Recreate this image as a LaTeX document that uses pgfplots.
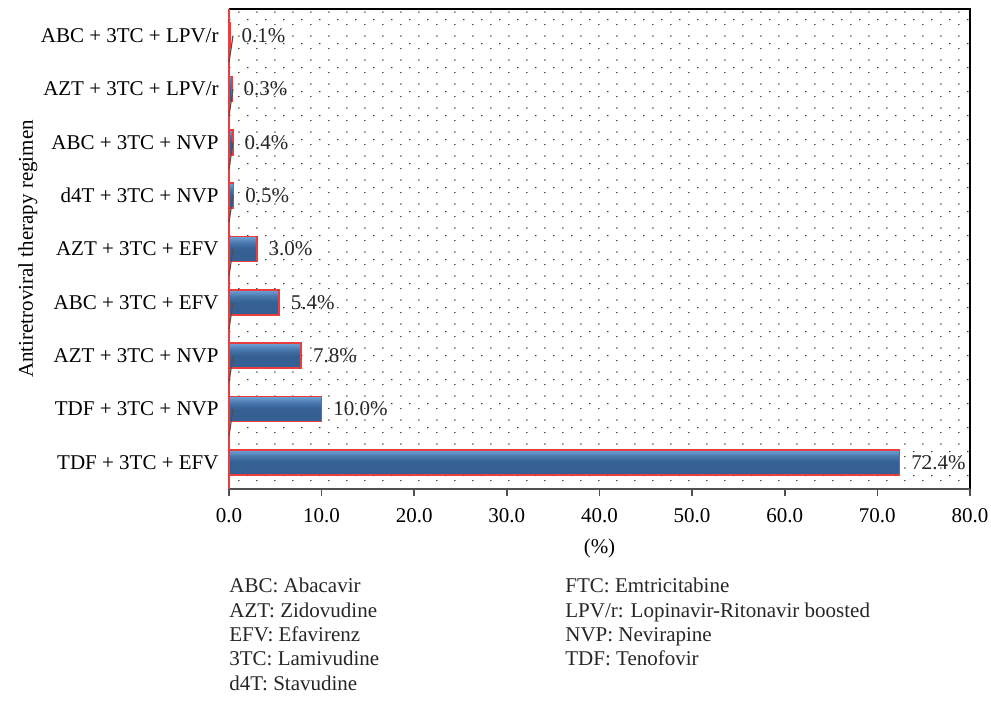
\documentclass[border=0pt]{standalone}
\usepackage{fontspec}
\setmainfont{Liberation Serif}
\usepackage{pgfplots}
\pgfplotsset{compat=1.18}
\usetikzlibrary{patterns}
\definecolor{barred}{RGB}{232,62,62}
\definecolor{barlight}{RGB}{112,162,216}
\definecolor{barmid}{RGB}{72,118,170}
\definecolor{bardark}{RGB}{52,96,148}
\definecolor{axgray}{RGB}{80,80,80}
\pgfdeclareverticalshading{barshade}{100bp}{color(0bp)=(bardark); color(25bp)=(bardark); color(50bp)=(bardark); color(62bp)=(barmid); color(75bp)=(barlight); color(100bp)=(barlight)}
\pgfdeclarepatternformonly{griddots}{\pgfpoint{0pt}{0pt}}{\pgfpoint{9.15pt}{12pt}}{\pgfpoint{9.15pt}{12pt}}{%
  \pgfpathcircle{\pgfpoint{1pt}{1pt}}{0.4pt}%
  \pgfpathcircle{\pgfpoint{1pt}{7pt}}{0.4pt}%
  \pgfpathcircle{\pgfpoint{5.6pt}{9.5pt}}{0.4pt}%
  \pgfusepath{fill}}
\pgfplotsset{onebar/.style={draw=barred, line width=0.8pt, shading=barshade, bar shift=0pt}}
\begin{document}
\fontsize{10.5}{12.6}\selectfont
\begin{tikzpicture}
\begin{axis}[
  name=ax,
  at={(0,0)}, anchor=south west,
  width=370.5pt, height=240pt, scale only axis,
  xbar, bar width=12.5pt,
  xmin=0, xmax=80, ymin=-0.5, ymax=8.5,
  xtick={0,10,...,80},
  xtick pos=lower, ytick pos=left,
  /pgf/number format/assume math mode=true,
  x tick label style={yshift=-2.5pt, /pgf/number format/.cd, fixed, fixed zerofill, precision=1},
  ytick={0,...,8},
  yticklabels={TDF + 3TC + EFV, TDF + 3TC + NVP, AZT + 3TC + NVP, ABC + 3TC + EFV, AZT + 3TC + EFV, d4T + 3TC + NVP, ABC + 3TC + NVP, AZT + 3TC + LPV/r, ABC + 3TC + LPV/r},
  major y tick style={draw=none},
  y tick label style={xshift=2pt},
  xlabel={(\%)},
  xlabel style={yshift=-1pt},
  ylabel={Antiretroviral therapy regimen},
  ylabel style={yshift=-5.5pt},
  axis line style={draw=none},
  tick style={color=axgray, line width=0.8pt},
  major tick length=3.5pt,
  tick align=outside,
  axis background/.style={pattern=griddots, pattern color=black!85},
  clip=false,
  point meta=x,
  nodes near coords={\pgfmathprintnumber[fixed,fixed zerofill,precision=1]{\pgfplotspointmeta}\%},
  nodes near coords align={horizontal},
  every node near coord/.append style={color=black!85, xshift=2pt, font=\fontsize{10.5}{12.6}\selectfont},
]
\addplot[onebar] coordinates {(72.4,0)};
\addplot[onebar] coordinates {(10.0,1)};
\addplot[onebar] coordinates {(7.8,2)};
\addplot[onebar] coordinates {(5.4,3)};
\addplot[onebar] coordinates {(3.0,4)};
\addplot[onebar] coordinates {(0.5,5)};
\addplot[onebar] coordinates {(0.4,6)};
\addplot[onebar] coordinates {(0.3,7)};
\addplot[onebar] coordinates {(0.1,8)};
\draw[black, line width=0.8pt] (rel axis cs:0,1) -- (rel axis cs:1,1) -- (rel axis cs:1,0);
\draw[axgray, line width=0.8pt] (rel axis cs:0,0) -- (rel axis cs:1,0);
\draw[barred, line width=0.8pt] (rel axis cs:0,0) -- (rel axis cs:0,1);
\pgfplotsinvokeforeach{0.5,1.5,...,7.5}{\draw[axgray, line width=0.6pt] (axis cs:0,#1) -- ++(2pt,0);}
\end{axis}
\begin{scope}[every node/.style={anchor=base west, inner sep=0pt, color=black!85}]
\node at (0pt,-51.5pt) {ABC: Abacavir};
\node at (0pt,-64pt) {AZT: Zidovudine};
\node at (0pt,-76pt) {EFV: Efavirenz};
\node at (0pt,-88pt) {3TC: Lamivudine};
\node at (0pt,-100.5pt) {d4T: Stavudine};
\node at (168pt,-51.5pt) {FTC: Emtricitabine};
\node at (168pt,-64pt) {LPV/r: Lopinavir-Ritonavir boosted};
\node at (168pt,-76pt) {NVP: Nevirapine};
\node at (168pt,-88pt) {TDF: Tenofovir};
\end{scope}
\pgfresetboundingbox
\path[use as bounding box] (-114.5pt,-110pt) rectangle (381pt,244.5pt);
\end{tikzpicture}
\end{document}
